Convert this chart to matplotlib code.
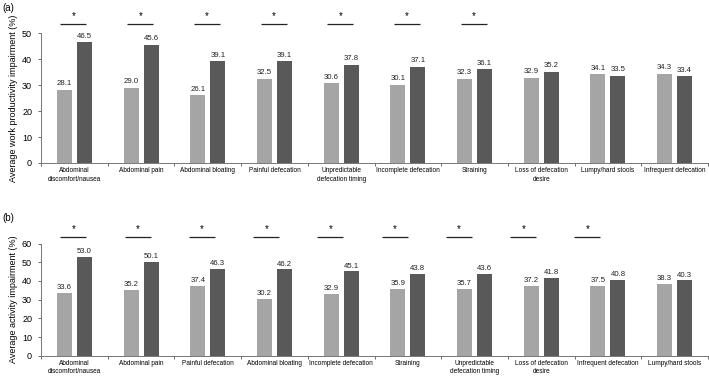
import matplotlib
matplotlib.use("Agg")
import matplotlib.pyplot as plt
import numpy as np

plt.rcParams['font.family'] = ['Liberation Sans', 'DejaVu Sans']

# panel (a): work productivity impairment
a_cats = ["Abdominal\ndiscomfort/nausea", "Abdominal pain", "Abdominal bloating",
          "Painful defecation", "Unpredictable\ndefecation timing", "Incomplete defecation",
          "Straining", "Loss of defecation\ndesire", "Lumpy/hard stools", "Infrequent defecation"]
a_light = [28.1, 29.0, 26.1, 32.5, 30.6, 30.1, 32.3, 32.9, 34.1, 34.3]
a_dark = [46.5, 45.6, 39.1, 39.1, 37.8, 37.1, 36.1, 35.2, 33.5, 33.4]
a_sig = [True, True, True, True, True, True, True, False, False, False]

# panel (b): activity impairment
b_cats = ["Abdominal\ndiscomfort/nausea", "Abdominal pain", "Painful defecation",
          "Abdominal bloating", "Incomplete defecation", "Straining",
          "Unpredictable\ndefecation timing", "Loss of defecation\ndesire",
          "Infrequent defecation", "Lumpy/hard stools"]
b_light = [33.6, 35.2, 37.4, 30.2, 32.9, 35.9, 35.7, 37.2, 37.5, 38.3]
b_dark = [53.0, 50.1, 46.3, 46.2, 45.1, 43.8, 43.6, 41.8, 40.8, 40.3]
b_sig = [True, True, True, True, True, True, True, True, True, False]

LIGHT = '#a5a5a5'
DARK = '#595959'


def draw_panel(ax, cats, light, dark, sig, ymax, ystep, ylabel, line_y, star_y, drift):
    x = np.arange(len(cats))
    w = 0.225
    ax.bar(x - 0.15, light, w, color=LIGHT)
    ax.bar(x + 0.15, dark, w, color=DARK)
    for xi, v in zip(x, light):
        ax.text(xi - 0.15, v + 1, f"{v:.1f}", ha='center', va='bottom', fontsize=5.6, color='#222222')
    for xi, v in zip(x, dark):
        ax.text(xi + 0.15, v + 1, f"{v:.1f}", ha='center', va='bottom', fontsize=5.6, color='#222222')

    # significance markers
    for i, s in enumerate(sig):
        if not s:
            continue
        left = i - 0.21 - drift * i
        ax.plot([left, left + 0.39], [line_y, line_y], color='#222222', lw=0.9,
                clip_on=False, solid_capstyle='butt')
        ax.text(left + 0.2, star_y, "*", ha='center', va='center', fontsize=7, clip_on=False)

    ax.set_xlim(-0.5, len(cats) - 0.5)
    ax.set_ylim(0, ymax)
    ax.set_yticks(np.arange(0, ymax + 1, ystep))
    ax.set_xticks(x)
    ax.set_xticklabels(cats, fontsize=4.7, linespacing=1.3)
    ax.set_xticks(np.arange(-0.5, len(cats)), minor=True)
    ax.tick_params(axis='x', which='major', length=0, pad=3)
    ax.tick_params(axis='x', which='minor', length=2.5, width=0.6, color='#555555', direction='out')
    ax.tick_params(axis='y', labelsize=6.5, length=2.5, width=0.6, color='#555555', pad=4)
    for sp in ['top', 'right']:
        ax.spines[sp].set_visible(False)
    for sp in ['left', 'bottom']:
        ax.spines[sp].set_color('#777777')
        ax.spines[sp].set_linewidth(0.7)
    ax.set_ylabel(ylabel, fontsize=6.5, labelpad=3)


fig = plt.figure(figsize=(7.09, 3.76), dpi=100)
ax_a = fig.add_axes([0.058, 0.5665, 0.9406, 0.3455])
ax_b = fig.add_axes([0.058, 0.054, 0.9406, 0.298])

draw_panel(ax_a, a_cats, a_light, a_dark, a_sig, 50, 10,
           "Average work productivity impairment (%)", 53.5, 56.5, 0.0)
draw_panel(ax_b, b_cats, b_light, b_dark, b_sig, 60, 10,
           "Average activity impairment (%)", 63.6, 67.8, 0.037)

fig.text(0.003, 0.978, "(a)", fontsize=7, va='center')
fig.text(0.003, 0.42, "(b)", fontsize=7, va='center')

fig.savefig("out.png", dpi=100)
